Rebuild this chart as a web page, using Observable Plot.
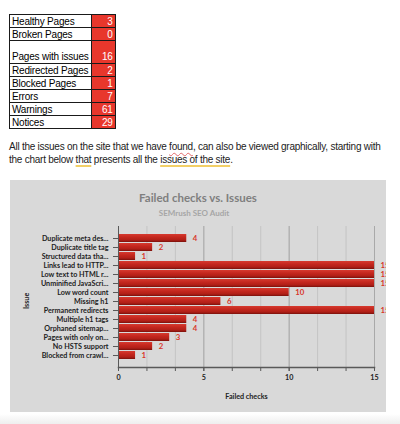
<!DOCTYPE html>
<html><head><meta charset="utf-8">
<script src="https://cdn.jsdelivr.net/npm/d3@7"></script>
<script src="https://cdn.jsdelivr.net/npm/@observablehq/plot@0.6"></script>
<style>
html,body{margin:0;padding:0;background:#fff;}
body{width:400px;height:424px;position:relative;overflow:hidden;font-family:"Liberation Sans",Arial,sans-serif;}
#stats{position:absolute;left:9px;top:14px;border-collapse:collapse;table-layout:fixed;font-size:10px;letter-spacing:-0.2px;color:#000;}
#stats td{border:1px solid #1a1a1a;padding:0 2px;line-height:11px;white-space:nowrap;}
#stats tr{height:13px;}
#stats td.lab{width:73px;}
#stats td.val{width:19px;background:#e8372c;color:#fff;text-align:right;}
#stats tr.tall{height:23px;}
#stats tr.tall td{vertical-align:bottom;padding-bottom:1px;}
#para{position:absolute;left:9px;top:140px;font-size:10px;line-height:13px;letter-spacing:-0.25px;color:#222;white-space:nowrap;}
.spell{text-decoration:underline wavy #e26a6a;text-decoration-thickness:1px;text-underline-offset:2px;}
.gram{text-decoration:underline solid #f2cf66;text-decoration-thickness:1.5px;text-underline-offset:2px;}
#chart{position:absolute;left:10px;top:180px;width:376px;height:232px;background:#d9d9d9;}
#ctitle{padding-top:11px;line-height:14px;height:14px;font-family:Lato,sans-serif;font-weight:bold;font-size:11.5px;color:#7f7f7f;text-align:center;}
#csub{margin-top:3px;line-height:10px;height:10px;padding-bottom:2px;font-family:Lato,sans-serif;font-weight:bold;font-size:8px;color:#a6a6a6;text-align:center;padding-right:8px;}
#shadow{position:absolute;left:0;top:414px;width:400px;height:10px;background:linear-gradient(#ffffff,#eeeeee);}
</style>
</head><body>
<table id="stats"></table>
<div id="para">All the issues on the site that we have <span class="spell">found</span>, can also be viewed graphically, starting with<br>the chart below <span class="gram">that</span> presents all the <span class="gram">issues of the site</span>.</div>
<div id="chart">
  <div id="ctitle"></div>
  <div id="csub"></div>
  <div id="plot"></div>
</div>
<div id="shadow"></div>
<script>
// ---- summary table data ----
const tableLabels = ["Healthy Pages", "Broken Pages", "Pages with issues", "Redirected Pages", "Blocked Pages", "Errors", "Warnings", "Notices"];
const tableValues = [3, 0, 16, 2, 1, 7, 61, 29];

// ---- chart data ----
const chartTitle = "Failed checks vs. Issues";
const chartSubtitle = "SEMrush SEO Audit";
const issues = ["Duplicate meta des...", "Duplicate title tag", "Structured data tha...", "Links lead to HTTP...", "Low text to HTML r...", "Unminified JavaScri...", "Low word count", "Missing h1", "Permanent redirects", "Multiple h1 tags", "Orphaned sitemap...", "Pages with only on...", "No HSTS support", "Blocked from crawl..."];
const failedChecks = [4, 2, 1, 15, 15, 15, 10, 6, 15, 4, 4, 3, 2, 1];
const xTickLabels = [0, 5, 10, 15];
const xMinorTicks = [0, 5/3, 10/3, 5, 20/3, 25/3, 10, 35/3, 40/3, 15];
const xLabel = "Failed checks";
const yLabel = "Issue";

// build table
const tbl = document.getElementById("stats");
tableLabels.forEach((lab, i) => {
  const tr = document.createElement("tr");
  if (lab === "Pages with issues") tr.className = "tall";
  const a = document.createElement("td"); a.className = "lab"; a.textContent = lab;
  const b = document.createElement("td"); b.className = "val"; b.textContent = tableValues[i];
  tr.appendChild(a); tr.appendChild(b); tbl.appendChild(tr);
});

document.getElementById("ctitle").textContent = chartTitle;
document.getElementById("csub").textContent = chartSubtitle;

const data = issues.map((issue, i) => ({issue, value: failedChecks[i]}));

const chart = Plot.plot({
  width: 376, height: 192,
  marginTop: 6, marginBottom: 45, marginLeft: 108, marginRight: 12,
  style: {background: "transparent", fontFamily: "Lato, sans-serif", fontSize: "7.2px", fontWeight: "bold", color: "#222", overflow: "hidden"},
  x: {domain: [0, 15]},
  y: {domain: issues, padding: 0.12},
  marks: [
    Plot.gridX(xMinorTicks, {stroke: "#c4c4c4", strokeOpacity: 1}),
    Plot.gridX(xTickLabels.slice(1), {stroke: "#a9a9a9", strokeOpacity: 1}),
    Plot.barX(data, {x: "value", y: "issue", fill: "url(#barGrad)"}),
    Plot.text(data, {x: "value", y: "issue", text: d => String(d.value), dx: 6, textAnchor: "start", fill: "#d8352a", fontSize: 7.8}),
    Plot.ruleX([0], {stroke: "#595959", strokeWidth: 1}),
    Plot.frame({anchor: "bottom", stroke: "#595959", strokeWidth: 1.5}),
    Plot.axisX(xMinorTicks, {tickSize: 4, tickFormat: () => "", label: null, stroke: "#595959"}),
    Plot.axisX(xTickLabels, {tickSize: 4, tickPadding: 3, label: null, stroke: "#595959", fill: "#222"}),
    Plot.axisY({tickSize: 5, tickPadding: 5, label: null, stroke: "#595959", fill: "#222"}),
    Plot.text([xLabel], {frameAnchor: "bottom", dy: 31, fill: "#222"}),
    Plot.text([yLabel], {frameAnchor: "left", dx: -92, dy: 12, rotate: -90, fill: "#222"})
  ]
});

const defs = d3.select(chart).insert("defs", ":first-child");
const g = defs.append("linearGradient").attr("id", "barGrad").attr("x1", 0).attr("y1", 0).attr("x2", 0).attr("y2", 1);
[[0, "#d63a2f"], [0.4, "#c4271e"], [0.75, "#b01f17"], [1, "#7a110b"]].forEach(([o, c]) => g.append("stop").attr("offset", o).attr("stop-color", c));

document.getElementById("plot").appendChild(chart);
</script>
</body></html>
